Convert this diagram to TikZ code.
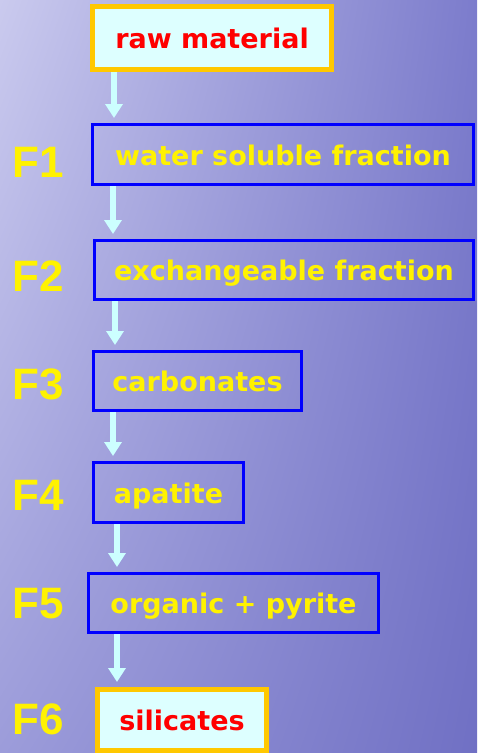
\documentclass[tikz,border=0pt]{standalone}
\usepackage{fontspec}
\setmainfont{DejaVu Sans}
\newfontfamily\labelfont{Liberation Sans}
\usetikzlibrary{arrows.meta,shadings}

\definecolor{skyleft}{RGB}{202,202,238}
\definecolor{skyright}{RGB}{124,124,204}
\definecolor{sealeft}{RGB}{156,156,218}
\definecolor{searight}{RGB}{112,112,196}
\definecolor{goldline}{RGB}{255,200,0}
\definecolor{icefill}{RGB}{221,255,255}
\definecolor{arrowcyan}{RGB}{204,255,255}

\begin{document}
\begin{tikzpicture}[x=1pt, y=-1pt,
    fraction/.style={draw=blue, line width=3pt, inner sep=0pt,
      text=yellow, font=\bfseries\fontsize{27}{27}\selectfont,
      text height=22pt, text depth=1pt},
    endbox/.style={draw=goldline, fill=icefill, line width=5pt, inner sep=0pt,
      text=red, font=\bfseries\fontsize{27}{27}\selectfont,
      text height=22pt, text depth=1pt},
    flabel/.style={anchor=west, inner sep=0pt, text=yellow,
      font=\labelfont\bfseries\fontsize{44}{44}\selectfont},
    flow/.style={draw=arrowcyan, line width=6pt,
      -{Triangle[width=17pt,length=14pt]}, shorten >=5pt}]
  % Background
  \shade[upper left=skyleft, upper right=skyright,
         lower left=sealeft, lower right=searight] (0,0) rectangle (477,753);
  \useasboundingbox (0,0) rectangle (477,753);

  % Boxes
  \node[endbox, minimum width=239pt, minimum height=63pt] (raw) at (212,38) {raw material};
  \node[fraction, minimum width=381pt, minimum height=60pt] (f1) at (283,154.5) {water soluble fraction};
  \node[fraction, minimum width=379pt, minimum height=59pt] (f2) at (284,270) {exchangeable fraction};
  \node[fraction, minimum width=208pt, minimum height=59pt] (f3) at (197.5,381) {carbonates};
  \node[fraction, minimum width=150pt, minimum height=60pt] (f4) at (168.5,492.5) {apatite};
  \node[fraction, minimum width=290pt, minimum height=59pt] (f5) at (233.5,603) {organic + pyrite};
  \node[endbox, minimum width=169pt, minimum height=61pt] (f6) at (182,720) {silicates};

  % Labels
  \node[flabel] (l1) at (12,162) {F1};
  \node[flabel] (l2) at (12,276) {F2};
  \node[flabel] (l3) at (12,384) {F3};
  \node[flabel] (l4) at (12,495) {F4};
  \node[flabel] (l5) at (12,604) {F5};
  \node[flabel] (l6) at (12,719) {F6};

  % Arrows
  \coordinate (c1) at (114,0);
  \coordinate (c2) at (113,0);
  \coordinate (c3) at (115,0);
  \coordinate (c4) at (117,0);
  \draw[flow] (raw.south -| c1) -- (f1.north -| c1);
  \draw[flow] (f1.south -| c2) -- (f2.north -| c2);
  \draw[flow] (f2.south -| c3) -- (f3.north -| c3);
  \draw[flow] (f3.south -| c2) -- (f4.north -| c2);
  \draw[flow] (f4.south -| c4) -- (f5.north -| c4);
  \draw[flow] (f5.south -| c4) -- (f6.north -| c4);
\end{tikzpicture}
\end{document}
